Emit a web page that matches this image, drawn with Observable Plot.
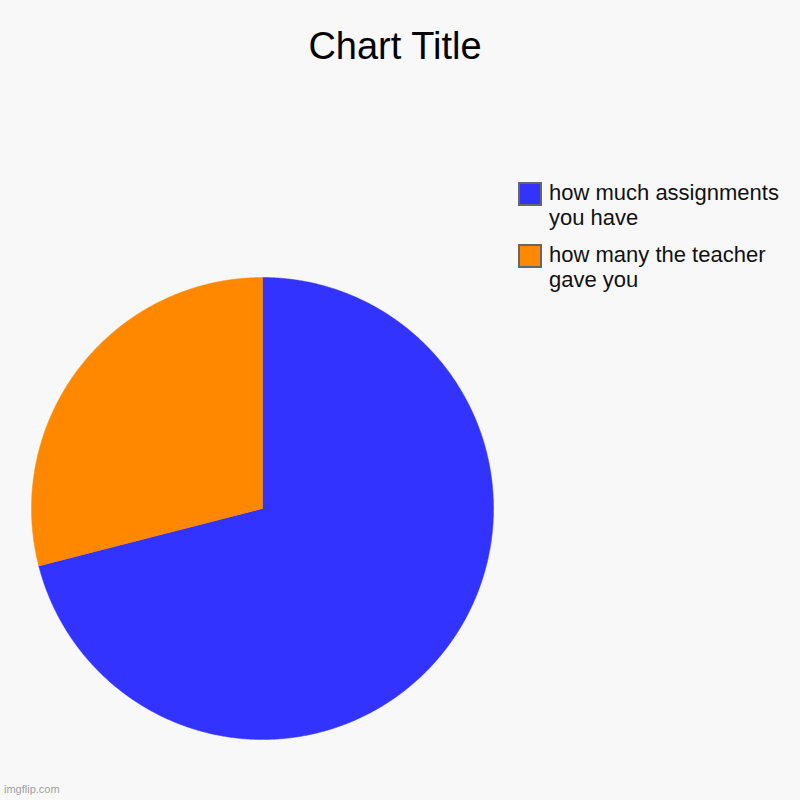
<!DOCTYPE html>
<html>
<head>
<meta charset="utf-8">
<script src="https://cdn.jsdelivr.net/npm/d3@7"></script>
<script src="https://cdn.jsdelivr.net/npm/@observablehq/plot@0.6"></script>
<style>
  html, body { margin: 0; padding: 0; background: #f8f8f8; }
  #wrap { position: relative; width: 800px; height: 800px; background: #f8f8f8; font-family: "Liberation Sans", Arial, sans-serif; }
  #title { position: absolute; left: -5px; top: 25px; width: 800px; text-align: center; font-size: 38px; color: #000; }
  .leg { position: absolute; left: 518px; display: flex; align-items: flex-start; }
  .sw { width: 20px; height: 20px; border: 2px solid #666; box-sizing: content-box; margin-top: 1px; }
  .lt { margin-left: 7px; font-size: 22px; line-height: 25px; color: #111; margin-top: -1px; }
  #wm { position: absolute; left: 4px; top: 783px; font-size: 11px; color: #a0a0a0; }
  #chart { position: absolute; left: 0; top: 0; }
</style>
</head>
<body>
<div id="wrap">
  <div id="chart"></div>
  <div id="title">Chart Title</div>
  <div id="legend"></div>
  <div id="wm">imgflip.com</div>
</div>
<script>
const categories = ["how much assignments you have", "how many the teacher gave you"];
const legendLines = [["how much assignments", "you have"], ["how many the teacher", "gave you"]];
const values = [71, 29];
const colors = ["#3333ff", "#ff8800"];

// Build slice outlines (unit circle) from the data via d3.pie
const arcs = d3.pie().sort(null).value(d => d)(values);
const pts = [];
arcs.forEach((a, i) => {
  const n = Math.max(2, Math.ceil((a.endAngle - a.startAngle) / 0.005));
  pts.push({cat: categories[i], x: 0, y: 0});
  for (let k = 0; k <= n; k++) {
    const t = a.startAngle + (a.endAngle - a.startAngle) * k / n;
    pts.push({cat: categories[i], x: Math.sin(t), y: Math.cos(t)});
  }
  pts.push({cat: categories[i], x: 0, y: 0});
});

const cx = 262, cy = 508, r = 231;
const plot = Plot.plot({
  width: 800,
  height: 800,
  margin: 0,
  style: {background: "transparent"},
  x: {domain: [-1, 1], range: [cx - r, cx + r], axis: null},
  y: {domain: [-1, 1], range: [cy + r, cy - r], axis: null},
  color: {domain: categories, range: colors},
  marks: [
    Plot.line(pts, {x: "x", y: "y", z: "cat", fill: "cat", stroke: "cat", strokeWidth: 0.5, curve: "linear-closed"})
  ]
});
document.getElementById("chart").appendChild(plot);

const leg = document.getElementById("legend");
const tops = [181, 243];
categories.forEach((c, i) => {
  const d = document.createElement("div");
  d.className = "leg";
  d.style.top = tops[i] + "px";
  d.innerHTML = `<div class="sw" style="background:${colors[i]}"></div><div class="lt">${legendLines[i].join("<br>")}</div>`;
  leg.appendChild(d);
});
</script>
</body>
</html>
